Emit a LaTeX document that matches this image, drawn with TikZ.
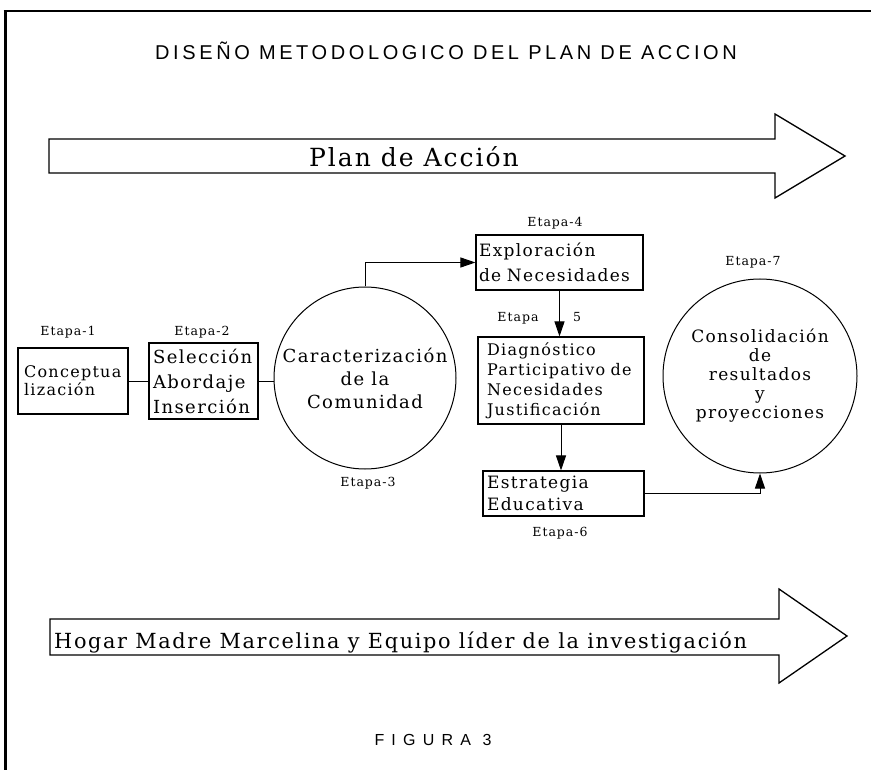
\documentclass[tikz,border=0pt]{standalone}
\usepackage{fontspec}
\setmainfont{DejaVu Serif}[LetterSpace=8]
\newfontfamily\titlef{Liberation Sans}[LetterSpace=18]
\newfontfamily\figf{Liberation Sans}[LetterSpace=45]
\usetikzlibrary{arrows.meta}
\newcommand\fsz[2]{\fontsize{#1}{#2}\selectfont}
\begin{document}
\begin{tikzpicture}[x=1pt,y=-1pt,
  every node/.style={inner sep=0pt},
  box/.style={draw,line width=1.1pt,align=left},
  ring/.style={draw,circle,line width=1pt,align=center},
  lbl/.style={font=\fsz{12.5}{14}},
  conn/.style={line width=1pt},
  tip/.style={conn,-{Triangle[length=15pt,width=10pt]}},
  band/.style={line width=1.3pt,line join=miter}]
\useasboundingbox (0,0) rectangle (871,770);
\fill[white] (0,0) rectangle (871,770);
% frame
\draw[line width=3pt] (5,770) -- (5,11);
\draw[line width=2.5pt] (3.5,11) -- (871,11);
% title
\node[anchor=base,font=\titlef\fsz{20}{22}] (title) at (446,60) {DISEÑO METODOLOGICO DEL PLAN DE ACCION};
% top band arrow
\draw[band] (49,139) -- (775,139) -- (775,114) -- (845,156) -- (775,198) -- (775,173) -- (49,173) -- cycle;
\node[anchor=base,font=\fsz{25}{28}] (plan) at (414,167) {Plan de Acción};
% stages
\node[lbl] (e1) at (68,332) {Etapa-1};
\node[box,minimum width=110pt,minimum height=66pt,text width=98pt,font=\fsz{16}{18}] (b1) at (73,381) {Conceptua\\lización};
\node[lbl] (e2) at (202,332) {Etapa-2};
\node[box,minimum width=109pt,minimum height=76pt,text width=101pt,font=\fsz{18}{25}] (b2) at (203.5,381) {Selección\\Abordaje\\Inserción};
\node[ring,minimum size=182pt,font=\fsz{18}{23}] (c3) at (365,378) {Caracterización\\de la\\Comunidad};
\node[lbl] (e3) at (368,483) {Etapa-3};
\node[lbl] (e4) at (555,223) {Etapa-4};
\node[box,minimum width=167pt,minimum height=55pt,text width=161pt,font=\fsz{17}{25}] (b4) at (559.5,262.5) {Exploración\\de Necesidades};
\node[lbl,anchor=base] (e5a) at (518,322) {Etapa};
\node[lbl,anchor=base] (e5b) at (577,322) {5};
\node[box,minimum width=166pt,minimum height=87pt,text width=148pt,font=\fsz{16}{20}] (b5) at (561,380.5) {Diagnóstico\\Participativo de\\Necesidades\\Justificación};
\node[box,minimum width=161pt,minimum height=45pt,text width=153pt,font=\fsz{17}{22}] (b6) at (563.5,493.5) {Estrategia\\Educativa};
\node[lbl] (e6) at (560,533) {Etapa-6};
\node[lbl] (e7) at (753,262) {Etapa-7};
\node[ring,minimum size=194pt,font=\fsz{17}{19}] (c7) at (760,376) {Consolidación\\de\\resultados\\y\\proyecciones};
% connectors
\draw[conn] (b1.east) -- (b2.west);
\draw[conn] (b2.east) -- (b2.east -| c3.west);
\draw[tip] (c3.north) |- (b4.west);
\draw[tip] (b4.south) -- (b4.south |- b5.north);
\draw[tip] (b5.south) -- (b5.south |- b6.north);
\draw[tip] (b6.east) -| (c7.south);
% bottom band arrow
\draw[band] (50,619) -- (779,619) -- (779,589) -- (847,636) -- (779,683) -- (779,655) -- (50,655) -- cycle;
\node[anchor=base west,font=\fsz{20.8}{24}] (hogar) at (54,648) {Hogar Madre Marcelina y Equipo líder de la investigación};
\node[anchor=base,font=\figf\fsz{16}{18}] (fig) at (433,745) {FIGURA 3};
\end{tikzpicture}
\end{document}
